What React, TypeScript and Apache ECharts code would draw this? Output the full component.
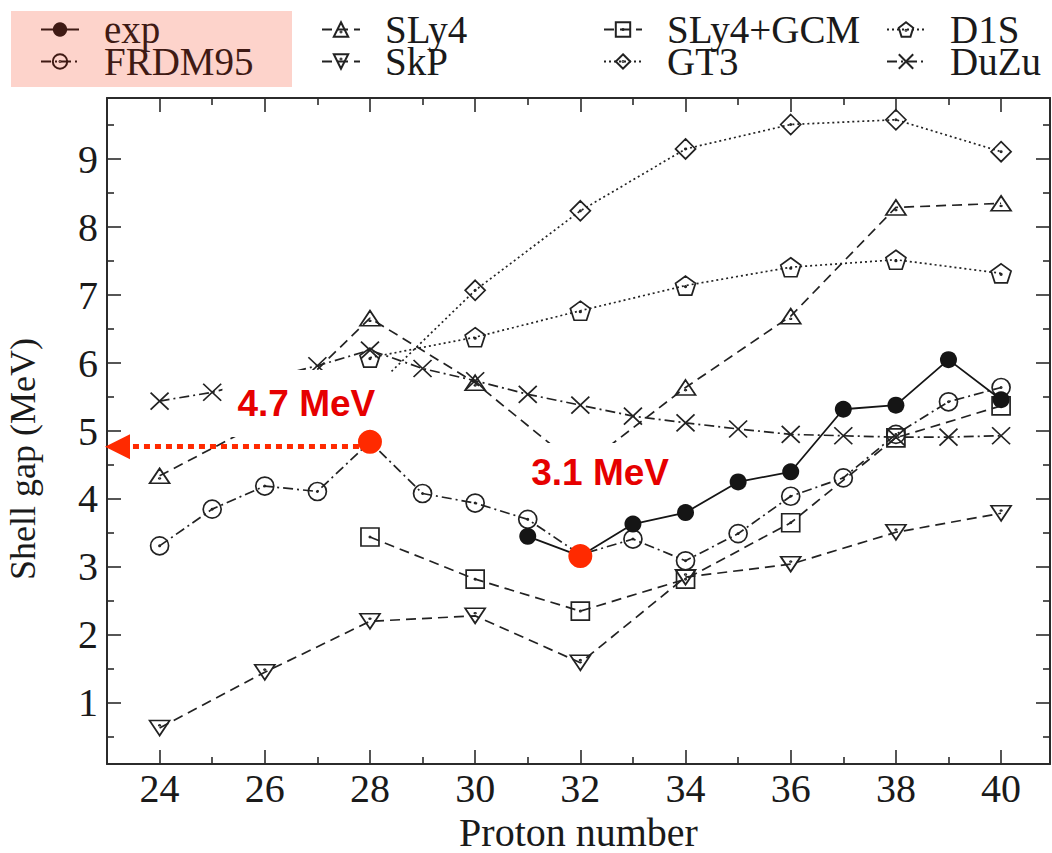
import React, { useEffect, useRef } from "react";
import * as echarts from "echarts";

// ---------- data ----------
const EXP_Z = [31, 32, 33, 34, 35, 36, 37, 38, 39, 40];
const EXP_V = [3.45, 3.16, 3.63, 3.8, 4.25, 4.4, 5.32, 5.38, 6.05, 5.46];

const FRDM_Z = [24, 25, 26, 27, 28, 29, 30, 31, 32, 33, 34, 35, 36, 37, 38, 39, 40];
const FRDM_V = [3.31, 3.85, 4.19, 4.11, 4.84, 4.08, 3.94, 3.7, 3.18, 3.41, 3.09, 3.49, 4.04, 4.31, 4.95, 5.43, 5.64];

const SLY4_Z = [24, 26, 28, 30, 32, 34, 36, 38, 40];
const SLY4_V = [4.34, 5.15, 6.66, 5.71, 4.45, 5.64, 6.69, 8.29, 8.35];

const SKP_Z = [24, 26, 28, 30, 32, 34, 36, 38, 40];
const SKP_V = [0.63, 1.45, 2.2, 2.28, 1.59, 2.85, 3.04, 3.51, 3.79];

const GCM_Z = [28, 30, 32, 34, 36, 38, 40];
const GCM_V = [3.44, 2.82, 2.35, 2.82, 3.65, 4.9, 5.37];

const GT3_Z = [28, 30, 32, 34, 36, 38, 40];
const GT3_V = [5.57, 7.07, 8.24, 9.15, 9.51, 9.58, 9.11];

const D1S_Z = [28, 30, 32, 34, 36, 38, 40];
const D1S_V = [6.08, 6.38, 6.77, 7.14, 7.41, 7.52, 7.32];

const DUZU_Z = [24, 25, 27, 28, 29, 30, 31, 32, 33, 34, 35, 36, 37, 38, 39, 40];
const DUZU_V = [5.44, 5.57, 5.96, 6.19, 5.92, 5.74, 5.54, 5.38, 5.22, 5.12, 5.03, 4.95, 4.93, 4.91, 4.91, 4.93];

// highlighted points and annotations
const HIGHLIGHT_Z = [28, 32];
const HIGHLIGHT_V = [4.84, 3.16];
const NOTE_TEXT = ["4.7 MeV", "3.1 MeV"];
const NOTE_Z = [26.79, 32.31];
const NOTE_V = [5.405, 4.382];
const ARROW_FROM = [28, 4.77];
const ARROW_TO = [23.2, 4.77];

// axes
const X_MIN = 23;
const X_MAX = 40.93;
const Y_MIN = 0.1;
const Y_MAX = 9.9;
const X_MAJOR = [24, 26, 28, 30, 32, 34, 36, 38, 40];
const X_MINOR = [25, 27, 29, 31, 33, 35, 37, 39];
const Y_MAJOR = [1, 2, 3, 4, 5, 6, 7, 8, 9];
const Y_MINOR = [0.5, 1.5, 2.5, 3.5, 4.5, 5.5, 6.5, 7.5, 8.5, 9.5];

const LEGEND_NAMES = ["exp", "FRDM95", "SLy4", "SkP", "SLy4+GCM", "GT3", "D1S", "DuZu"];

// ---------- styles ----------
const SERIF = '"Liberation Serif", "Times New Roman", serif';
const SANS = '"Liberation Sans", Arial, sans-serif';
const INK = "#222222";
const AXIS_COLOR = "#2b2b2b";
const RED = "#ff2a00";
const RED_TEXT = "#e60000";
const BROWN = "#3f1a14";

const dot = (cx: number, cy: number, r: number) =>
  `M${cx + r},${cy}A${r},${r},0,1,1,${cx - r},${cy}A${r},${r},0,1,1,${cx + r},${cy}Z`;

const SYM_CIRCLE = "path://M1,0A1,1,0,1,1,-1,0A1,1,0,1,1,1,0Z" + dot(0, 0, 0.07);
const SYM_TRI = "path://M0,-1L1,1L-1,1Z" + dot(0, 0.35, 0.07);
const SYM_SQUARE = "path://M-1,-1L1,-1L1,1L-1,1Z" + dot(0, 0, 0.07);
const SYM_DIAMOND = "path://M0,-1L1,0L0,1L-1,0Z" + dot(0, 0, 0.07);
const SYM_PENT = "path://M0,-1L0.951,-0.309L0.588,0.809L-0.588,0.809L-0.951,-0.309Z" + dot(0, 0, 0.07);
const SYM_X = "path://M-1,-1L1,1M1,-1L-1,1";

const pairs = (xs: number[], vs: number[]) => xs.map((x, i) => [x, vs[i]]);

const hollow = { color: "rgba(0,0,0,0)", borderColor: INK, borderWidth: 1.7 };

function lineSeries(name: string, xs: number[], vs: number[], symbol: string, size: any, dash: any, extra: any = {}) {
  return {
    name,
    type: "line",
    data: pairs(xs, vs),
    symbol,
    symbolSize: size,
    showSymbol: true,
    silent: true,
    lineStyle: { color: INK, width: 1.7, type: dash },
    itemStyle: hollow,
    emphasis: { disabled: true },
    z: 2,
    ...extra,
  };
}

function xAxisDef(position: string, values: number[], len: number, showLine: boolean, withLabels: boolean) {
  return {
    type: "value",
    position,
    min: X_MIN,
    max: X_MAX,
    splitLine: { show: false },
    axisLine: { show: showLine, onZero: false, lineStyle: { color: AXIS_COLOR, width: 2 } },
    axisTick: { show: true, inside: true, length: len, customValues: values, lineStyle: { color: AXIS_COLOR, width: 1.6 } },
    axisLabel: withLabels
      ? { show: true, customValues: values, fontFamily: SERIF, fontSize: 40, lineHeight: 40, color: "#1a1a1a", margin: 4 }
      : { show: false },
  };
}

function yAxisDef(position: string, values: number[], len: number, showLine: boolean, withLabels: boolean) {
  return {
    type: "value",
    position,
    min: Y_MIN,
    max: Y_MAX,
    splitLine: { show: false },
    axisLine: { show: showLine, onZero: false, lineStyle: { color: AXIS_COLOR, width: 2 } },
    axisTick: { show: true, inside: true, length: len, customValues: values, lineStyle: { color: AXIS_COLOR, width: 1.6 } },
    axisLabel: withLabels
      ? { show: true, customValues: values, fontFamily: SERIF, fontSize: 40, color: "#1a1a1a", margin: 9 }
      : { show: false },
  };
}

// legend columns (icon left edge) and rows (top)
const LEGEND_LEFT = [40, 40, 321, 321, 603, 603, 886, 886];
const LEGEND_TOP = [10, 42, 10, 42, 10, 42, 10, 42];

function legendItem(i: number) {
  const name = LEGEND_NAMES[i];
  const brown = i < 2;
  const item: any = { name };
  if (brown) {
    item.itemStyle = i === 0 ? { color: BROWN, borderWidth: 0 } : { color: "rgba(0,0,0,0)", borderColor: BROWN };
    item.lineStyle = { color: BROWN };
  }
  return {
    orient: "horizontal",
    left: LEGEND_LEFT[i],
    top: LEGEND_TOP[i],
    itemWidth: 38,
    itemHeight: 18,
    selectedMode: false,
    padding: 0,
    textStyle: { fontFamily: SERIF, fontSize: 39, lineHeight: 30, color: brown ? BROWN : "#1a1a1a", padding: [0, 0, 0, 20] },
    data: [item],
  };
}

export default function App() {
  const ref = useRef<HTMLDivElement>(null);

  useEffect(() => {
    if (!ref.current) return;
    const chart = echarts.init(ref.current, null, { renderer: "svg" });

    const xAxes: any[] = [
      { ...xAxisDef("bottom", X_MAJOR, 14, true, true), name: "Proton number", nameLocation: "middle", nameGap: 46, nameTextStyle: { fontFamily: SERIF, fontSize: 40, lineHeight: 34, color: "#1a1a1a" } },
      xAxisDef("bottom", X_MINOR, 7, false, false),
      xAxisDef("top", X_MAJOR, 14, true, false),
      xAxisDef("top", X_MINOR, 7, false, false),
    ];
    const yAxes: any[] = [
      { ...yAxisDef("left", Y_MAJOR, 14, true, true), name: "Shell gap (MeV)", nameLocation: "middle", nameGap: 66, nameTextStyle: { fontFamily: SERIF, fontSize: 36, color: "#1a1a1a", padding: [0, 56, 0, 0] } },
      yAxisDef("left", Y_MINOR, 7, false, false),
      yAxisDef("right", Y_MAJOR, 14, true, false),
      yAxisDef("right", Y_MINOR, 7, false, false),
    ];

    const option: any = {
      animation: false,
      backgroundColor: "#ffffff",
      grid: { left: 107, right: 2, top: 98, bottom: 89, containLabel: false, outerBoundsMode: "none" },
      xAxis: xAxes,
      yAxis: yAxes,
      graphic: [
        { type: "rect", left: 11, top: 11, z: 0, shape: { width: 281, height: 76 }, style: { fill: "#fdd3cb" }, silent: true },
      ],
      legend: LEGEND_NAMES.map((_, i) => legendItem(i)),
      series: [
        lineSeries("exp", EXP_Z, EXP_V, "circle", 17, "solid", {
          itemStyle: { color: "#151515", borderWidth: 0 },
          lineStyle: { color: "#151515", width: 1.8, type: "solid" },
          z: 3,
        }),
        lineSeries("FRDM95", FRDM_Z, FRDM_V, SYM_CIRCLE, 18, [10, 4, 2, 4]),
        lineSeries("SLy4", SLY4_Z, SLY4_V, SYM_TRI, [20, 15], [10, 6]),
        lineSeries("SkP", SKP_Z, SKP_V, SYM_TRI, [20, 15], [10, 6], { symbolRotate: 180 }),
        lineSeries("SLy4+GCM", GCM_Z, GCM_V, SYM_SQUARE, 18, [10, 6]),
        lineSeries("GT3", GT3_Z, GT3_V, SYM_DIAMOND, 20, [2, 3]),
        lineSeries("D1S", D1S_Z, D1S_V, SYM_PENT, [20, 19], [2, 3]),
        lineSeries("DuZu", DUZU_Z, DUZU_V, SYM_X, [18, 17], [10, 4, 2, 4]),
        {
          name: "notes",
          type: "scatter",
          silent: true,
          z: 5,
          symbolSize: 1,
          itemStyle: { color: "rgba(0,0,0,0)", opacity: 1 },
          data: NOTE_TEXT.map((t, i) => ({
            name: t,
            value: [NOTE_Z[i], NOTE_V[i]],
            label: { padding: i === 0 ? [16, 15, 11, 15] : [12, 5, 8, 12] },
          })),
          label: {
            show: true,
            position: "inside",
            formatter: "{b}",
            fontFamily: SANS,
            fontWeight: "bold",
            fontSize: 37,
            lineHeight: 40,
            color: RED_TEXT,
            opacity: 1,
            backgroundColor: "#ffffff",
          },
          emphasis: { disabled: true },
        },
        {
          name: "highlight",
          type: "scatter",
          silent: true,
          z: 6,
          symbol: "circle",
          symbolSize: 24,
          itemStyle: { color: RED, opacity: 1 },
          data: pairs(HIGHLIGHT_Z, HIGHLIGHT_V),
          emphasis: { disabled: true },
          markLine: {
            silent: true,
            symbol: ["none", "triangle"],
            symbolSize: 25,
            label: { show: false },
            lineStyle: { color: RED, width: 5, type: [6, 5], cap: "butt", opacity: 1 },
            itemStyle: { color: RED },
            emphasis: { disabled: true },
            data: [[{ coord: ARROW_FROM }, { coord: ARROW_TO }]],
          },
        },
      ],
    };

    chart.setOption(option);
    return () => chart.dispose();
  }, []);

  return <div ref={ref} style={{ position: "fixed", left: 0, top: 0, width: 1052, height: 853 }} />;
}
